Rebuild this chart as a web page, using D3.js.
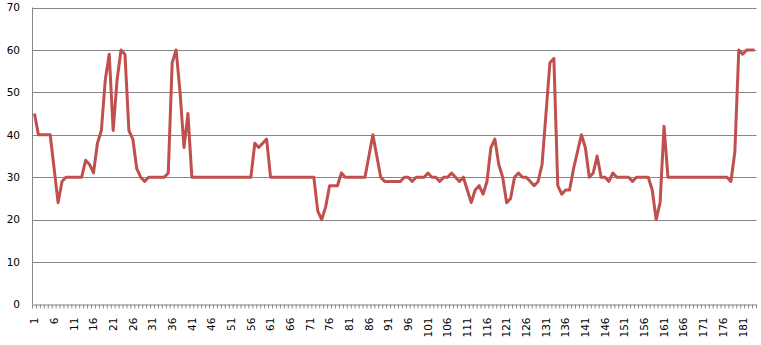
<!DOCTYPE html>
<html>
<head>
<meta charset="utf-8">
<script src="https://cdn.jsdelivr.net/npm/d3@7"></script>
<style>
  body { margin: 0; background: #fff; }
  text { font-family: "DejaVu Sans", sans-serif; font-size: 10.5px; fill: #000; }
</style>
</head>
<body>
<svg id="chart" width="761" height="345"></svg>
<script>
// values, one per category (1..184)
const values = [
    45, 40, 40, 40, 40, 32, 24, 29, 30, 30,
    30, 30, 30, 34, 33, 31, 38, 41, 53, 59,
    41, 53, 60, 59, 41, 39, 32, 30, 29, 30,
    30, 30, 30, 30, 31, 57, 60, 50, 37, 45,
    30, 30, 30, 30, 30, 30, 30, 30, 30, 30,
    30, 30, 30, 30, 30, 30, 38, 37, 38, 39,
    30, 30, 30, 30, 30, 30, 30, 30, 30, 30,
    30, 30, 22, 20, 23, 28, 28, 28, 31, 30,
    30, 30, 30, 30, 30, 35, 40, 35, 30, 29,
    29, 29, 29, 29, 30, 30, 29, 30, 30, 30,
    31, 30, 30, 29, 30, 30, 31, 30, 29, 30,
    27, 24, 27, 28, 26, 29, 37, 39, 33, 30,
    24, 25, 30, 31, 30, 30, 29, 28, 29, 33,
    45, 57, 58, 28, 26, 27, 27, 32, 36, 40,
    37, 30, 31, 35, 30, 30, 29, 31, 30, 30,
    30, 30, 29, 30, 30, 30, 30, 27, 20, 24,
    42, 30, 30, 30, 30, 30, 30, 30, 30, 30,
    30, 30, 30, 30, 30, 30, 30, 29, 36, 60,
    59, 60, 60, 60
];
const categories = values.map((d, i) => i + 1);
const yTicks = [0, 10, 20, 30, 40, 50, 60, 70];

const svg = d3.select("#chart");
const plotLeft = 32.5, plotRight = 756.5, plotTop = 7.5, plotBottom = 304.5;

const x = d3.scaleBand()
    .domain(categories)
    .range([plotLeft, plotRight])
    .paddingInner(0)
    .paddingOuter(0);

const y = d3.scaleLinear()
    .domain([0, 70])
    .range([plotBottom, plotTop]);

// Gridlines
svg.append("g")
    .selectAll("line")
    .data(yTicks.slice(1))
    .join("line")
    .attr("x1", plotLeft)
    .attr("x2", plotRight)
    .attr("y1", d => Math.round(y(d)) + 0.5)
    .attr("y2", d => Math.round(y(d)) + 0.5)
    .attr("stroke", "#868686")
    .attr("stroke-width", 1);

// Y axis labels
svg.append("g")
    .selectAll("text")
    .data(yTicks)
    .join("text")
    .attr("x", 20)
    .attr("y", d => y(d))
    .attr("dy", "0.36em")
    .attr("text-anchor", "end")
    .text(d => d);

// Y axis line
svg.append("line")
    .attr("x1", plotLeft).attr("x2", plotLeft)
    .attr("y1", plotTop).attr("y2", plotBottom)
    .attr("stroke", "#868686");

// X axis: ticks at category boundaries, labels every 5th
const bw = x.bandwidth();
const xAxis = svg.append("g")
    .attr("transform", `translate(0, ${plotBottom})`)
    .call(d3.axisBottom(x)
        .tickSize(4)
        .tickSizeOuter(0)
        .tickFormat(d => (d - 1) % 5 === 0 ? d : ""));

xAxis.select(".domain").attr("stroke", "#868686");
xAxis.selectAll(".tick line")
    .attr("stroke", "#868686")
    .attr("x1", -bw / 2)
    .attr("x2", -bw / 2);
xAxis.append("line")
    .attr("x1", plotRight).attr("x2", plotRight)
    .attr("y1", 0).attr("y2", 4)
    .attr("stroke", "#868686");

xAxis.selectAll(".tick text")
    .attr("fill", "#000")
    .style("font-family", "DejaVu Sans, sans-serif")
    .style("font-size", "10.5px")
    .attr("transform", "rotate(-90)")
    .attr("text-anchor", "end")
    .attr("x", -13)
    .attr("y", 0)
    .attr("dy", "0.36em");

// Line
const line = d3.line()
    .x((d, i) => x(categories[i]) + bw / 2)
    .y(d => y(d));

svg.append("path")
    .datum(values)
    .attr("fill", "none")
    .attr("stroke", "#C0504D")
    .attr("stroke-width", 3)
    .attr("stroke-linejoin", "round")
    .attr("d", line);
</script>
</body>
</html>
